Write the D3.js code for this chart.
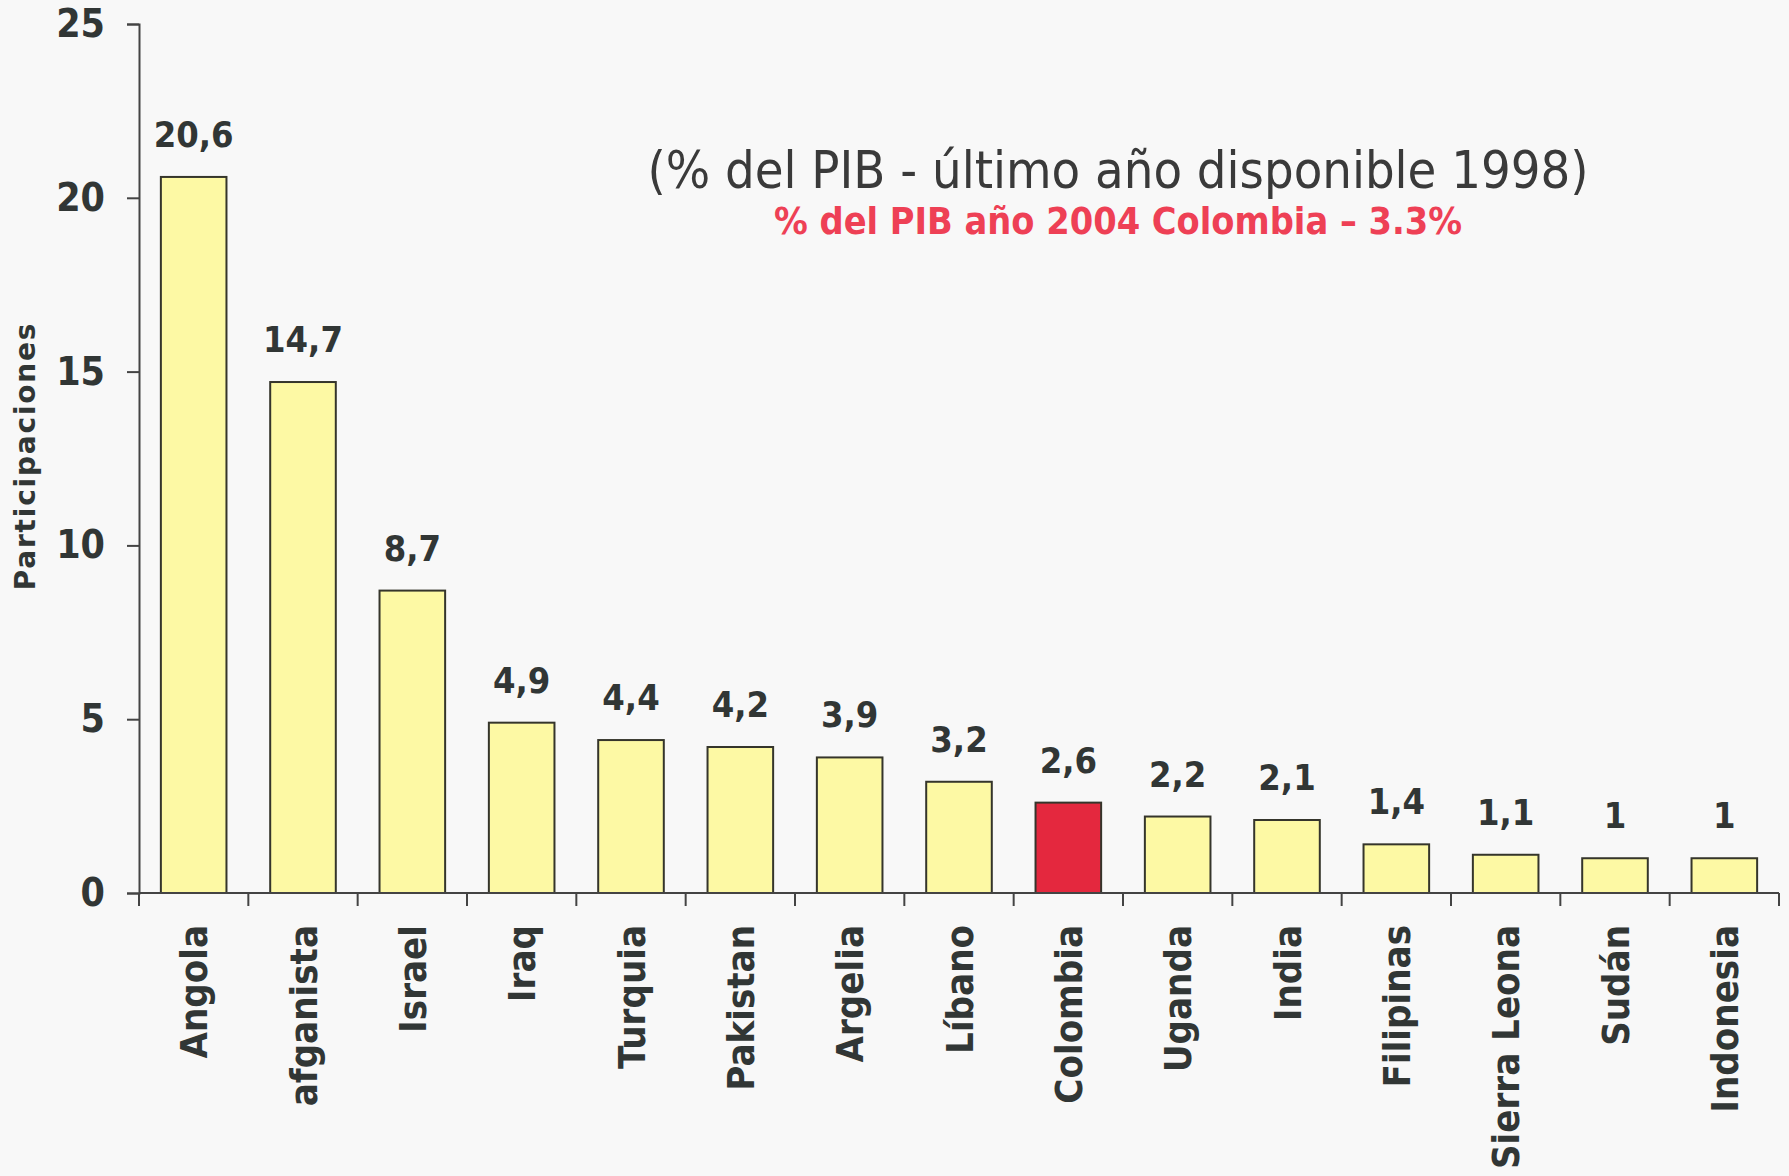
<!DOCTYPE html>
<html>
<head>
<meta charset="utf-8">
<script src="https://cdn.jsdelivr.net/npm/d3@7"></script>
<style>
  body { margin: 0; background: #f8f8f8; }
  svg { display: block; }
</style>
</head>
<body>
<svg id="chart" width="1789" height="1176"></svg>
<script>
// data
var countries = ["Angola", "afganista", "Israel", "Iraq", "Turquia", "Pakistan", "Argelia",
                 "Líbano", "Colombia", "Uganda", "India", "Filipinas", "Sierra Leona", "Sudán", "Indonesia"];
var values = [20.6, 14.7, 8.7, 4.9, 4.4, 4.2, 3.9, 3.2, 2.6, 2.2, 2.1, 1.4, 1.1, 1, 1];
var valueLabels = ["20,6", "14,7", "8,7", "4,9", "4,4", "4,2", "3,9", "3,2", "2,6", "2,2", "2,1", "1,4", "1,1", "1", "1"];
var yTicks = [0, 5, 10, 15, 20, 25];
var highlight = "Colombia";

var data = countries.map(function(c, i) {
  return {name: c, value: values[i], label: valueLabels[i]};
});

var svg = d3.select("#chart");
var ink = "#313635";
var font = "'DejaVu Sans Condensed', 'DejaVu Sans', sans-serif";

// scales
var x = d3.scaleBand().domain(countries).range([139, 1779]).padding(0);
var y = d3.scaleLinear().domain([0, 25]).range([893, 24]);

// bars
svg.append("g").selectAll("rect")
  .data(data)
  .enter().append("rect")
  .attr("x", function(d) { return x(d.name) + x.bandwidth() * 0.2; })
  .attr("width", x.bandwidth() * 0.6)
  .attr("y", function(d) { return y(d.value); })
  .attr("height", function(d) { return y(0) - y(d.value); })
  .attr("fill", function(d) { return d.name == highlight ? "#e4283e" : "#fdf9a4"; })
  .attr("stroke", "#35352b")
  .attr("stroke-width", 2);

// value labels
svg.append("g").selectAll("text")
  .data(data)
  .enter().append("text")
  .attr("x", function(d) { return x(d.name) + x.bandwidth() / 2; })
  .attr("y", function(d) { return y(d.value) - 30; })
  .attr("text-anchor", "middle")
  .style("font-family", font)
  .style("font-weight", "bold")
  .style("font-size", "36px")
  .style("fill", ink)
  .text(function(d) { return d.label; });

// y axis
var yAxis = d3.axisLeft(y).tickValues(yTicks).tickSize(12).tickPadding(22);
var gy = svg.append("g").attr("transform", "translate(139,0)").call(yAxis);
gy.select(".domain").attr("stroke", "#444").attr("stroke-width", 2);
gy.selectAll(".tick line").attr("stroke", "#444").attr("stroke-width", 2);
gy.selectAll(".tick text")
  .style("font-family", font)
  .style("font-weight", "bold")
  .style("font-size", "39px")
  .style("fill", ink);

// x axis: line with ticks at band edges
var xAxis = svg.append("g");
xAxis.append("line")
  .attr("x1", 139).attr("x2", 1779)
  .attr("y1", y(0)).attr("y2", y(0))
  .attr("stroke", "#444").attr("stroke-width", 2);
var edges = countries.map(function(c) { return x(c); }).concat([x.range()[1]]);
xAxis.selectAll("line.edge")
  .data(edges)
  .enter().append("line")
  .attr("class", "edge")
  .attr("x1", function(d) { return d; }).attr("x2", function(d) { return d; })
  .attr("y1", y(0)).attr("y2", y(0) + 13)
  .attr("stroke", "#444").attr("stroke-width", 2);

// category labels, rotated
xAxis.selectAll("text")
  .data(countries)
  .enter().append("text")
  .attr("transform", function(d) {
    return "translate(" + (x(d) + x.bandwidth() / 2) + ",925) rotate(-90)";
  })
  .attr("dy", "0.36em")
  .attr("text-anchor", "end")
  .style("font-family", font)
  .style("font-weight", "bold")
  .style("font-size", "38px")
  .style("fill", ink)
  .text(function(d) { return d; });

// y axis title
svg.append("text")
  .attr("transform", "translate(25,456) rotate(-90)")
  .attr("dy", "0.35em")
  .attr("text-anchor", "middle")
  .style("font-family", "'DejaVu Sans', sans-serif")
  .style("font-weight", "bold")
  .style("font-size", "28px")
  .style("letter-spacing", "1.8px")
  .style("fill", ink)
  .text("Participaciones");

// titles
svg.append("text")
  .attr("x", 1118).attr("y", 188)
  .attr("text-anchor", "middle")
  .style("font-family", font)
  .style("font-size", "52px")
  .style("fill", "#3a3a3a")
  .text("(% del PIB - último año disponible 1998)");

svg.append("text")
  .attr("x", 1118).attr("y", 234)
  .attr("text-anchor", "middle")
  .style("font-family", font)
  .style("font-weight", "bold")
  .style("font-size", "37.5px")
  .style("fill", "#ee4055")
  .text("% del PIB año 2004 Colombia – 3.3%");
</script>
</body>
</html>
